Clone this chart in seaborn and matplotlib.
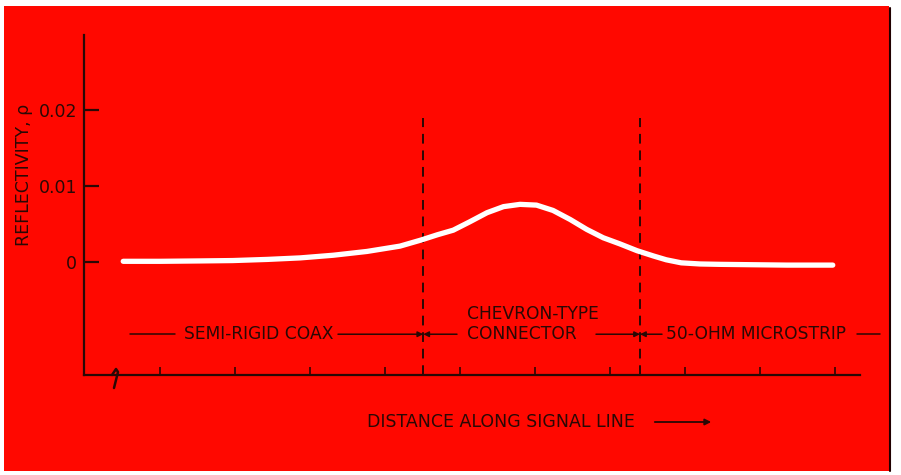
import matplotlib
matplotlib.use("Agg")
import matplotlib.pyplot as plt
import seaborn as sns
import pandas as pd
from matplotlib.patches import Rectangle, FancyArrowPatch
from matplotlib.lines import Line2D

# ---- data ----
distance = [-0.49, 0.0, 0.53, 0.97, 1.43, 1.87, 2.31, 2.76, 3.2, 3.48, 3.7,
            3.91, 4.13, 4.36, 4.58, 4.8, 5.02, 5.24, 5.47, 5.69, 5.91, 6.13,
            6.36, 6.58, 6.75, 6.95, 7.2, 7.47, 7.91, 8.36, 8.97]
reflectivity = [0.0001, 0.0001, 0.00015, 0.0002, 0.00035, 0.00055, 0.0009,
                0.0014, 0.0021, 0.0029, 0.0036, 0.0042, 0.0053, 0.0065, 0.0073,
                0.0076, 0.0075, 0.0068, 0.0056, 0.0043, 0.0032, 0.0024, 0.0015,
                0.0008, 0.0003, -0.0001, -0.00025, -0.0003, -0.00035, -0.0004, -0.0004]
boundaries = [3.51, 6.4]
ytick_vals = [0.0, 0.01, 0.02]
ytick_labels = ["0", "0.01", "0.02"]
xtick_vals = [0, 1, 2, 3, 4, 5, 6, 7, 8, 9]
section_labels = ["SEMI-RIGID COAX", "CHEVRON-TYPE\nCONNECTOR", "50-OHM MICROSTRIP"]

df = pd.DataFrame({"distance": distance, "reflectivity": reflectivity})

sns.set_theme(style="ticks")
plt.rcParams["font.family"] = ["DejaVu Sans"]

W, H = 901, 475
fig = plt.figure(figsize=(W / 100, H / 100), dpi=100, facecolor="white")

RED = "#ff0800"
INK = "#2a0805"
FS = 12.3

# red background panel
fig.patches.append(Rectangle((4 / W, 1 - 471 / H), (889 - 4) / W, (471 - 6) / H,
                             transform=fig.transFigure, facecolor=RED,
                             edgecolor="none", zorder=-10))
fig.lines.append(Line2D([890 / W, 890 / W], [1 - 471 / H, 1 - 8 / H],
                        transform=fig.transFigure, color="#200000", lw=1.5,
                        zorder=-9))

ax = fig.add_axes([84 / W, 1 - 375 / H, (860 - 84) / W, (375 - 35) / H])
ax.set_facecolor("none")
ax.set_zorder(2)

sns.lineplot(data=df, x="distance", y="reflectivity", ax=ax, color="white",
             lw=3.8, solid_capstyle="round", solid_joinstyle="round", zorder=3)

x0, x1 = -1.013, 9.333
y0, y1 = -0.01487, 0.0299
ax.set_xlim(x0, x1)
ax.set_ylim(y0, y1)

for s in ["top", "right"]:
    ax.spines[s].set_visible(False)
for s in ["left", "bottom"]:
    ax.spines[s].set_color(INK)
    ax.spines[s].set_linewidth(1.6)

ax.set_yticks(ytick_vals)
ax.set_yticklabels(ytick_labels)
ax.set_xticks(xtick_vals)
ax.set_xticklabels([])
ax.tick_params(axis="y", which="major", direction="in", length=11, width=1.6,
               color=INK, labelsize=12.5, labelcolor=INK, pad=5, left=True,
               right=False)
ax.tick_params(axis="x", which="major", direction="in", length=6, width=1.2,
               color=INK, bottom=True, top=False)
ax.set_xlabel("")
ax.set_ylabel("REFLECTIVITY, \u03c1", fontsize=12.5, color=INK)
ax.yaxis.set_label_coords(-0.066, 0.59)

# dashed boundaries
for b in boundaries:
    ax.plot([b, b], [y0, 0.0190], color=INK, lw=1.4, ls=(0, (5, 3.5)), zorder=2)

# axis break squiggle
def px2data(px, py):
    return (x0 + (px - 84) / (860 - 84) * (x1 - x0),
            y1 - (py - 35) / (375 - 35) * (y1 - y0))

bx, by = zip(*[px2data(p, q) for p, q in [(112, 375), (116, 369), (118, 372), (114, 388)]])
ax.plot(bx, by, color=INK, lw=1.8, clip_on=False, zorder=4)

# section annotation row
yr = -0.0095
tkw = dict(fontsize=FS, color=INK, va="center")
akw = dict(arrowstyle="-|>", color=INK, lw=1.1, mutation_scale=8, shrinkA=0, shrinkB=0)
ax.plot([px2data(130, 0)[0], px2data(175, 0)[0]], [yr, yr], color=INK, lw=1.1)
ax.text(px2data(259, 0)[0], yr, section_labels[0], ha="center", **tkw)
ax.annotate("", xy=(boundaries[0], yr), xytext=(px2data(338, 0)[0], yr), arrowprops=akw)
ax.annotate("", xy=(boundaries[0], yr), xytext=(px2data(457, 0)[0], yr), arrowprops=akw)
ax.text(px2data(467, 0)[0], yr + 0.0014, section_labels[1], ha="left",
        linespacing=1.15, **tkw)
ax.annotate("", xy=(boundaries[1], yr), xytext=(px2data(596, 0)[0], yr), arrowprops=akw)
ax.annotate("", xy=(boundaries[1], yr), xytext=(px2data(662, 0)[0], yr), arrowprops=akw)
ax.text(px2data(756, 0)[0], yr, section_labels[2], ha="center", **tkw)
ax.plot([px2data(857, 0)[0], px2data(880, 0)[0]], [yr, yr], color=INK, lw=1.1,
        clip_on=False)

# x axis title with arrow
fig.text(501 / W, 1 - 422 / H, "DISTANCE ALONG SIGNAL LINE", ha="center",
         va="center", fontsize=12.5, color=INK)
fig.patches.append(FancyArrowPatch(
    (652 / W, 1 - 422 / H), (714 / W, 1 - 422 / H), transform=fig.transFigure,
    arrowstyle="-|>", mutation_scale=9, color=INK, lw=1.3))

fig.savefig("out.png", dpi=100, facecolor="white")
